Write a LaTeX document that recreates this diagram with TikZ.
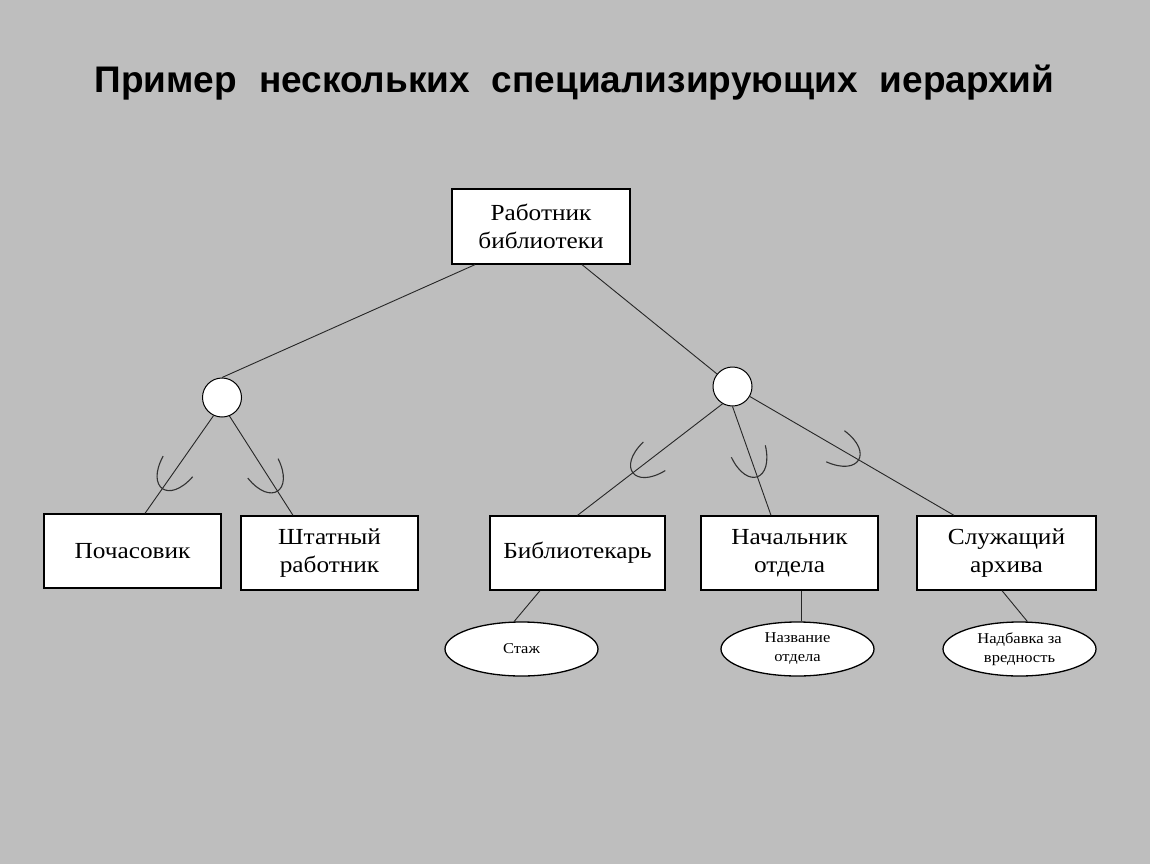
\documentclass[tikz,border=0pt]{standalone}
\usepackage{fontspec}
\setmainfont{Liberation Serif}
\newfontfamily\boxfont[FakeStretch=1.1]{Liberation Serif}
\newfontfamily\attrfont[FakeStretch=1.1]{Liberation Serif}
\newfontfamily\titlefont{Liberation Sans}
\usetikzlibrary{shapes.geometric,calc}
\definecolor{bg}{RGB}{190,190,190}
\definecolor{cupcol}{RGB}{50,50,50}
\tikzset{
  entity/.style={draw=black, fill=white, line width=1.3pt, align=center,
    font=\boxfont\fontsize{23}{28}\selectfont, inner sep=2pt},
  attr/.style={draw=black, fill=white, ellipse, line width=1.3pt, align=center,
    minimum width=153, minimum height=54, inner sep=0pt,
    font=\attrfont\fontsize{15}{19}\selectfont},
  spec/.style={draw=black, fill=white, circle, line width=1pt, minimum size=39, inner sep=0pt},
  link/.style={draw=black!85, line width=0.9pt},
  cupline/.style={draw=cupcol, line width=1.1pt},
  cup/.pic={\draw[cupline] (-31,18) .. controls (5,14) and (5,-14) .. (-31,-18);}
}
\begin{document}
\begin{tikzpicture}[x=1pt,y=-1pt]
\useasboundingbox (0,0) rectangle (1150,864);
\fill[bg] (0,0) rectangle (1150,864);

\node[anchor=base, font=\titlefont\bfseries\fontsize{37}{44}\selectfont, inner sep=0pt] (title) at (574.5,93)
  {Пример\hspace{22pt}нескольких\hspace{22pt}специализирующих\hspace{22pt}иерархий};

\node[entity, minimum width=178, minimum height=75] (top) at (541,226.5) {Работник\\библиотеки};
\node[entity, minimum width=177, minimum height=74] (b1) at (132.5,551) {Почасовик};
\node[entity, minimum width=177, minimum height=74] (b2) at (329.5,553) {Штатный\\работник};
\node[entity, minimum width=175, minimum height=74] (b3) at (577.5,553) {Библиотекарь};
\node[entity, minimum width=177, minimum height=74] (b4) at (789.5,553) {Начальник\\отдела};
\node[entity, minimum width=179, minimum height=74] (b5) at (1006.5,553) {Служащий\\архива};

\node[spec] (c1) at (222,397.5) {};
\node[spec] (c2) at (732.5,386.5) {};

\node[attr] (e1) at (521.5,649) {Стаж};
\node[attr] (e2) at (797.5,649) {Название\\отдела};
\node[attr] (e3) at (1019.5,649) {Надбавка за\\вредность};

\draw[link] ([xshift=-66]top.south) -- (c1.north);
\draw[link] ([xshift=41]top.south) -- (c2);

\draw[link] (c1.245) -- ([xshift=12.5]b1.north) pic[pos=0.78, sloped, allow upside down] {cup};
\draw[link] (c1.292) -- ([xshift=-36.5]b2.north) pic[pos=0.79, sloped, allow upside down] {cup};
\draw[link] (c2.240) -- (b3.north) pic[pos=0.64, sloped, allow upside down] {cup};
\draw[link] (c2.south) -- ([xshift=-18.5]b4.north) pic[pos=0.68, sloped, allow upside down] {cup};
\draw[link] (c2.-30) -- ([xshift=-52.5]b5.north) pic[pos=0.55, sloped, allow upside down] {cup};

\draw[link] ([xshift=-37.5]b3.south) -- (e1.105);
\draw[link] ([xshift=11.5]b4.south) -- ([xshift=11.5]b4.south |- e2.north);
\draw[link] ([xshift=-4.5]b5.south) -- (e3.74);
\end{tikzpicture}
\end{document}
